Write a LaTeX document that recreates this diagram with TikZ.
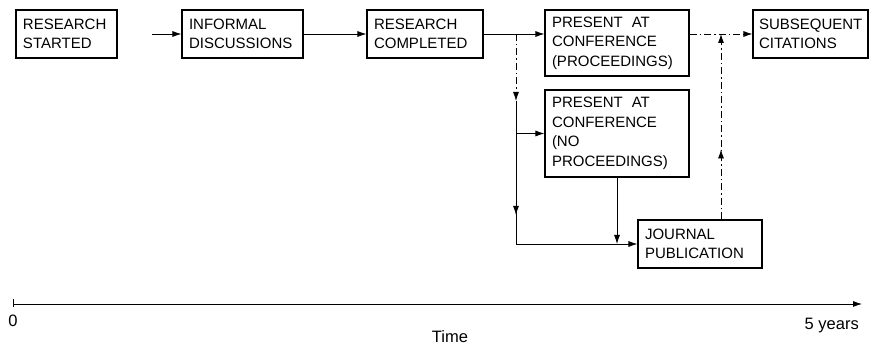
\documentclass[tikz,border=0pt]{standalone}
\usepackage{fontspec}
\setmainfont{Liberation Sans}
\usetikzlibrary{arrows.meta,decorations.markings}
\begin{document}
\begin{tikzpicture}[x=1pt,y=-1pt,
  box/.style={draw,line width=1.1pt,inner xsep=7pt,inner ysep=0pt,align=left,font=\fontsize{15}{19.5}\selectfont},
  conn/.style={line width=0.8pt},
  tip/.style={-{Latex[length=9pt,width=6pt]}},
  dd/.style={dash pattern=on 7pt off 3pt on 1.5pt off 3pt},
  midtip/.style={postaction={decorate},decoration={markings,mark=at position #1 with {\arrow{Latex[length=9pt,width=6pt]}}}},
  lab/.style={font=\fontsize{16.5}{19}\selectfont,inner sep=0pt}]
\useasboundingbox (0,0) rectangle (871,347);

\node[box,text width=87pt,minimum height=48pt] (rs) at (66.5,34) {RESEARCH\\STARTED};
\node[box,text width=107pt,minimum height=48pt] (inf) at (242.5,34) {INFORMAL\\DISCUSSIONS};
\node[box,text width=102pt,minimum height=48pt] (rc) at (425,34) {RESEARCH\\COMPLETED};
\node[box,text width=130pt,minimum height=66pt] (pp) at (617,43) {PRESENT\hspace{0.6em}AT\\CONFERENCE\\(PROCEEDINGS)};
\node[box,text width=130pt,minimum height=87pt] (pn) at (617,133.5) {PRESENT\hspace{0.6em}AT\\CONFERENCE\\(NO\\PROCEEDINGS)};
\node[box,text width=110pt,minimum height=48pt] (jp) at (700,244) {JOURNAL\\PUBLICATION};
\node[box,inner xsep=6pt,text width=103pt,minimum height=48pt] (sc) at (810.5,34) {SUBSEQUENT\\CITATIONS};

\coordinate (st) at (152,34);
\coordinate (br) at (516,34);
\coordinate (bm) at (516,101);

\draw[conn,tip] (st) -- (inf.west);
\draw[conn,tip] (inf.east) -- (rc.west);
\draw[conn,tip] (rc.east) -- (rc.east -| pp.west);
\draw[conn,dd,tip] (br) -- (bm);
\draw[conn,tip,midtip=114pt] (bm) -- (br |- jp.west) -- (jp.west);
\draw[conn,tip] (br |- pn.west) -- (pn.west);
\draw[conn,tip] (pn.south) -- (pn.south |- jp.west);
\draw[conn,dd,tip] (sc.west -| pp.east) -- (sc.west);
\draw[conn,dd,tip,midtip=70pt] ([xshift=21pt]jp.north) -- ([xshift=21pt]jp.north |- sc.west);

\coordinate (t0) at (13,304);
\coordinate (t1) at (862,304);
\draw[conn,tip] (t0) -- (t1);
\draw[conn] ([yshift=5pt]t0) -- ([yshift=-3pt]t0);
\node[lab,anchor=base] (zero) at (13,327) {0};
\node[lab,anchor=base east] (five) at (859,330) {5 years};
\node[lab,anchor=base] (time) at (450,343) {Time};
\end{tikzpicture}
\end{document}
